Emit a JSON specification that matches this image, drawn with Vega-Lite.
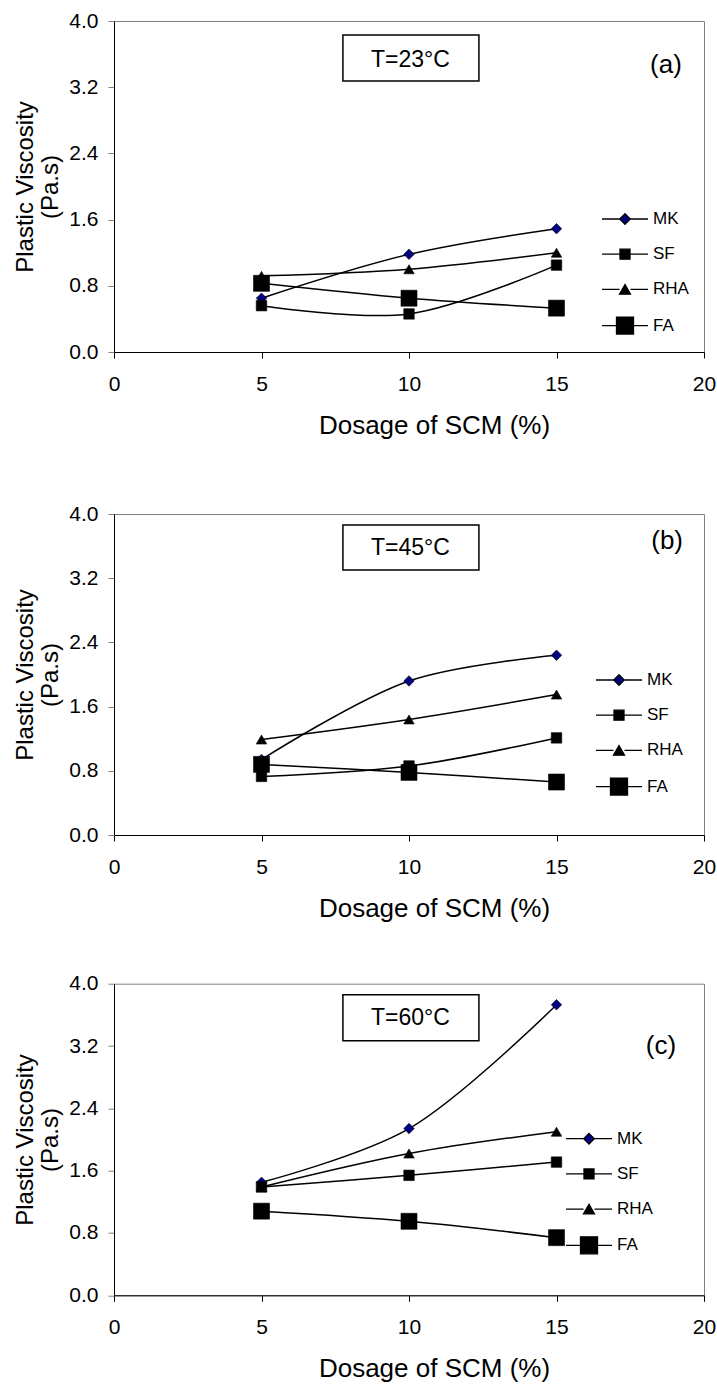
{
  "$schema": "https://vega.github.io/schema/vega-lite/v6.json",
  "padding": {"left": 12, "top": 9, "right": 5, "bottom": 5},
  "background": "white",
  "bounds": "flush",
  "spacing": 162,
  "resolve": {"scale": {"shape": "independent", "fill": "independent", "stroke": "independent"}, "legend": {"shape": "independent", "fill": "independent", "stroke": "independent"}},
  "config": {
    "font": "Liberation Sans",
    "view": {"stroke": "#808080", "strokeWidth": 1},
    "axis": {"grid": false, "domainColor": "black", "domainWidth": 1, "tickColor": "black", "tickSize": 6, "labelColor": "black", "titleColor": "black", "labelFont": "Liberation Sans", "titleFont": "Liberation Sans", "labelFontSize": 21, "titleFontWeight": "normal", "labelFlush": false, "labelOverlap": false},
    "legend": {"labelFont": "Liberation Sans", "labelFontSize": 17, "labelColor": "black", "symbolStrokeWidth": 1.3, "symbolSize": 400, "padding": 0, "rowPadding": 16.2, "labelOffset": 17, "symbolOpacity": 1},
    "text": {"font": "Liberation Sans", "color": "black"}
  },
  "datasets": {
    "a": [
      {"series": "MK", "dosage": 5, "pv": 0.65}, {"series": "MK", "dosage": 10, "pv": 1.18}, {"series": "MK", "dosage": 15, "pv": 1.49},
      {"series": "SF", "dosage": 5, "pv": 0.56}, {"series": "SF", "dosage": 10, "pv": 0.46}, {"series": "SF", "dosage": 15, "pv": 1.05},
      {"series": "RHA", "dosage": 5, "pv": 0.92}, {"series": "RHA", "dosage": 10, "pv": 1.0}, {"series": "RHA", "dosage": 15, "pv": 1.2},
      {"series": "FA", "dosage": 5, "pv": 0.83}, {"series": "FA", "dosage": 10, "pv": 0.65}, {"series": "FA", "dosage": 15, "pv": 0.53}
    ],
    "b": [
      {"series": "MK", "dosage": 5, "pv": 0.94}, {"series": "MK", "dosage": 10, "pv": 1.92}, {"series": "MK", "dosage": 15, "pv": 2.24},
      {"series": "SF", "dosage": 5, "pv": 0.73}, {"series": "SF", "dosage": 10, "pv": 0.86}, {"series": "SF", "dosage": 15, "pv": 1.21},
      {"series": "RHA", "dosage": 5, "pv": 1.19}, {"series": "RHA", "dosage": 10, "pv": 1.44}, {"series": "RHA", "dosage": 15, "pv": 1.75},
      {"series": "FA", "dosage": 5, "pv": 0.88}, {"series": "FA", "dosage": 10, "pv": 0.78}, {"series": "FA", "dosage": 15, "pv": 0.66}
    ],
    "c": [
      {"series": "MK", "dosage": 5, "pv": 1.45}, {"series": "MK", "dosage": 10, "pv": 2.14}, {"series": "MK", "dosage": 15, "pv": 3.73},
      {"series": "SF", "dosage": 5, "pv": 1.39}, {"series": "SF", "dosage": 10, "pv": 1.54}, {"series": "SF", "dosage": 15, "pv": 1.71},
      {"series": "RHA", "dosage": 5, "pv": 1.39}, {"series": "RHA", "dosage": 10, "pv": 1.82}, {"series": "RHA", "dosage": 15, "pv": 2.1},
      {"series": "FA", "dosage": 5, "pv": 1.08}, {"series": "FA", "dosage": 10, "pv": 0.95}, {"series": "FA", "dosage": 15, "pv": 0.74}
    ]
  },
  "vconcat": [
    {
      "width": 590, "height": 331,
      "layer": [
        {"data": {"name": "a"}, "mark": {"type": "line", "interpolate": "catmull-rom", "color": "black", "strokeWidth": 1.5},
         "encoding": {
           "x": {"field": "dosage", "type": "quantitative", "scale": {"domain": [0, 20], "nice": false}, "axis": {"values": [0, 5, 10, 15, 20], "title": "Dosage of SCM (%)", "titleFontSize": 26, "titleX": 320, "titleY": 81, "titleBaseline": "alphabetic", "titleAlign": "center", "labelPadding": 15}},
           "y": {"field": "pv", "type": "quantitative", "scale": {"domain": [0, 4], "nice": false}, "axis": {"values": [0, 0.8, 1.6, 2.4, 3.2, 4], "format": ".1f", "title": ["Plastic Viscosity", "(Pa.s)"], "titleFontSize": 24, "titleX": -82, "titleY": 165.5, "titleAngle": 270, "titleBaseline": "alphabetic", "titleAlign": "center", "titleLineHeight": 25, "labelPadding": 10, "tickColor": "#808080"}},
           "detail": {"field": "series"}
         }},
        {"data": {"name": "a"}, "mark": {"type": "point", "filled": true, "stroke": "black", "strokeWidth": 0.6, "opacity": 1},
         "encoding": {
           "x": {"field": "dosage", "type": "quantitative"},
           "y": {"field": "pv", "type": "quantitative"},
           "shape": {"condition": [{"test": "datum.series === 'MK'", "value": "diamond"}, {"test": "datum.series === 'RHA'", "value": "triangle-up"}], "value": "square"},
           "size": {"condition": {"test": "datum.series === 'FA'", "value": 256}, "value": 110},
           "color": {"condition": {"test": "datum.series === 'MK'", "value": "#000080"}, "value": "black"}
         }},
        {"data": {"name": "a"}, "transform": [{"filter": "datum.pv < 0"}], "mark": {"type": "point", "filled": true},
         "encoding": {
           "x": {"field": "dosage", "type": "quantitative"},
           "y": {"field": "pv", "type": "quantitative"},
           "shape": {"field": "series", "type": "nominal", "scale": {"domain": ["MK", "SF", "RHA", "FA"], "range": ["M-2.3,0H-0.53M0.53,0H2.3M0,-0.53L0.53,0L0,0.53L-0.53,0Z", "M-2.3,0H-0.5M0.5,0H2.3M-0.5,-0.5H0.5V0.5H-0.5Z", "M-2.3,0H-0.55M0.55,0H2.3M0,-0.48L0.55,0.48H-0.55Z", "M-2.3,0H-0.85M0.85,0H2.3M-0.85,-0.85H0.85V0.85H-0.85Z"]},
             "legend": {"title": null, "orient": "none", "legendX": 500, "legendY": 187}},
           "fill": {"field": "series", "type": "nominal", "scale": {"domain": ["MK", "SF", "RHA", "FA"], "range": ["#000080", "black", "black", "black"]},
             "legend": {"title": null, "orient": "none", "legendX": 500, "legendY": 187}},
           "stroke": {"field": "series", "type": "nominal", "scale": {"domain": ["MK", "SF", "RHA", "FA"], "range": ["black", "black", "black", "black"]},
             "legend": {"title": null, "orient": "none", "legendX": 500, "legendY": 187}}
         }},
        {"data": {"values": [{"t": "T=23°C"}]}, "mark": {"type": "rect", "fill": "white", "stroke": "black", "strokeWidth": 1.5},
         "encoding": {"x": {"datum": 7.76}, "x2": {"datum": 12.37}, "y": {"datum": 3.83}, "y2": {"datum": 3.275}}},
        {"data": {"values": [{"t": "T=23°C"}]}, "mark": {"type": "text", "fontSize": 23, "align": "center", "baseline": "middle"},
         "encoding": {"x": {"datum": 10.05}, "y": {"datum": 3.53}, "text": {"field": "t"}}},
        {"data": {"values": [{"t": "(a)"}]}, "mark": {"type": "text", "fontSize": 26, "align": "center", "baseline": "middle"},
         "encoding": {"x": {"datum": 18.71}, "y": {"datum": 3.47}, "text": {"field": "t"}}}
      ]
    },
    {
      "bounds": "flush",
      "spacing": 148.7,
      "resolve": {"scale": {"shape": "independent", "fill": "independent", "stroke": "independent"}, "legend": {"shape": "independent", "fill": "independent", "stroke": "independent"}},
      "vconcat": [
        {
          "width": 590, "height": 321,
          "layer": [
            {"data": {"name": "b"}, "mark": {"type": "line", "interpolate": "catmull-rom", "color": "black", "strokeWidth": 1.5},
             "encoding": {
               "x": {"field": "dosage", "type": "quantitative", "scale": {"domain": [0, 20], "nice": false}, "axis": {"values": [0, 5, 10, 15, 20], "title": "Dosage of SCM (%)", "titleFontSize": 26, "titleX": 320, "titleY": 81, "titleBaseline": "alphabetic", "titleAlign": "center", "labelPadding": 15}},
               "y": {"field": "pv", "type": "quantitative", "scale": {"domain": [0, 4], "nice": false}, "axis": {"values": [0, 0.8, 1.6, 2.4, 3.2, 4], "format": ".1f", "title": ["Plastic Viscosity", "(Pa.s)"], "titleFontSize": 24, "titleX": -82, "titleY": 160.5, "titleAngle": 270, "titleBaseline": "alphabetic", "titleAlign": "center", "titleLineHeight": 25, "labelPadding": 10, "tickColor": "#808080"}},
               "detail": {"field": "series"}
             }},
            {"data": {"name": "b"}, "mark": {"type": "point", "filled": true, "stroke": "black", "strokeWidth": 0.6, "opacity": 1},
             "encoding": {
               "x": {"field": "dosage", "type": "quantitative"},
               "y": {"field": "pv", "type": "quantitative"},
               "shape": {"condition": [{"test": "datum.series === 'MK'", "value": "diamond"}, {"test": "datum.series === 'RHA'", "value": "triangle-up"}], "value": "square"},
               "size": {"condition": {"test": "datum.series === 'FA'", "value": 256}, "value": 110},
               "color": {"condition": {"test": "datum.series === 'MK'", "value": "#000080"}, "value": "black"}
             }},
            {"data": {"name": "b"}, "transform": [{"filter": "datum.pv < 0"}], "mark": {"type": "point", "filled": true},
             "encoding": {
               "x": {"field": "dosage", "type": "quantitative"},
               "y": {"field": "pv", "type": "quantitative"},
               "shape": {"field": "series", "type": "nominal", "scale": {"domain": ["MK", "SF", "RHA", "FA"], "range": ["M-2.3,0H-0.53M0.53,0H2.3M0,-0.53L0.53,0L0,0.53L-0.53,0Z", "M-2.3,0H-0.5M0.5,0H2.3M-0.5,-0.5H0.5V0.5H-0.5Z", "M-2.3,0H-0.55M0.55,0H2.3M0,-0.48L0.55,0.48H-0.55Z", "M-2.3,0H-0.85M0.85,0H2.3M-0.85,-0.85H0.85V0.85H-0.85Z"]},
                 "legend": {"title": null, "orient": "none", "legendX": 494, "legendY": 155}},
               "fill": {"field": "series", "type": "nominal", "scale": {"domain": ["MK", "SF", "RHA", "FA"], "range": ["#000080", "black", "black", "black"]},
                 "legend": {"title": null, "orient": "none", "legendX": 494, "legendY": 155}},
               "stroke": {"field": "series", "type": "nominal", "scale": {"domain": ["MK", "SF", "RHA", "FA"], "range": ["black", "black", "black", "black"]},
                 "legend": {"title": null, "orient": "none", "legendX": 494, "legendY": 155}}
             }},
            {"data": {"values": [{"t": "T=45°C"}]}, "mark": {"type": "rect", "fill": "white", "stroke": "black", "strokeWidth": 1.5},
             "encoding": {"x": {"datum": 7.76}, "x2": {"datum": 12.37}, "y": {"datum": 3.863}, "y2": {"datum": 3.302}}},
            {"data": {"values": [{"t": "T=45°C"}]}, "mark": {"type": "text", "fontSize": 23, "align": "center", "baseline": "middle"},
             "encoding": {"x": {"datum": 10.05}, "y": {"datum": 3.576}, "text": {"field": "t"}}},
            {"data": {"values": [{"t": "(b)"}]}, "mark": {"type": "text", "fontSize": 26, "align": "center", "baseline": "middle"},
             "encoding": {"x": {"datum": 18.75}, "y": {"datum": 3.66}, "text": {"field": "t"}}}
          ]
        },
        {
          "width": 590, "height": 311.6,
          "layer": [
            {"data": {"name": "c"}, "mark": {"type": "line", "interpolate": "catmull-rom", "color": "black", "strokeWidth": 1.5},
             "encoding": {
               "x": {"field": "dosage", "type": "quantitative", "scale": {"domain": [0, 20], "nice": false}, "axis": {"values": [0, 5, 10, 15, 20], "title": "Dosage of SCM (%)", "titleFontSize": 26, "titleX": 320, "titleY": 81, "titleBaseline": "alphabetic", "titleAlign": "center", "labelPadding": 15}},
               "y": {"field": "pv", "type": "quantitative", "scale": {"domain": [0, 4], "nice": false}, "axis": {"values": [0, 0.8, 1.6, 2.4, 3.2, 4], "format": ".1f", "title": ["Plastic Viscosity", "(Pa.s)"], "titleFontSize": 24, "titleX": -82, "titleY": 155.8, "titleAngle": 270, "titleBaseline": "alphabetic", "titleAlign": "center", "titleLineHeight": 25, "labelPadding": 10, "tickColor": "#808080"}},
               "detail": {"field": "series"}
             }},
            {"data": {"name": "c"}, "mark": {"type": "point", "filled": true, "stroke": "black", "strokeWidth": 0.6, "opacity": 1},
             "encoding": {
               "x": {"field": "dosage", "type": "quantitative"},
               "y": {"field": "pv", "type": "quantitative"},
               "shape": {"condition": [{"test": "datum.series === 'MK'", "value": "diamond"}, {"test": "datum.series === 'RHA'", "value": "triangle-up"}], "value": "square"},
               "size": {"condition": {"test": "datum.series === 'FA'", "value": 256}, "value": 110},
               "color": {"condition": {"test": "datum.series === 'MK'", "value": "#000080"}, "value": "black"}
             }},
            {"data": {"name": "c"}, "transform": [{"filter": "datum.pv < 0"}], "mark": {"type": "point", "filled": true},
             "encoding": {
               "x": {"field": "dosage", "type": "quantitative"},
               "y": {"field": "pv", "type": "quantitative"},
               "shape": {"field": "series", "type": "nominal", "scale": {"domain": ["MK", "SF", "RHA", "FA"], "range": ["M-2.3,0H-0.53M0.53,0H2.3M0,-0.53L0.53,0L0,0.53L-0.53,0Z", "M-2.3,0H-0.5M0.5,0H2.3M-0.5,-0.5H0.5V0.5H-0.5Z", "M-2.3,0H-0.55M0.55,0H2.3M0,-0.48L0.55,0.48H-0.55Z", "M-2.3,0H-0.85M0.85,0H2.3M-0.85,-0.85H0.85V0.85H-0.85Z"]},
                 "legend": {"title": null, "orient": "none", "legendX": 464, "legendY": 144}},
               "fill": {"field": "series", "type": "nominal", "scale": {"domain": ["MK", "SF", "RHA", "FA"], "range": ["#000080", "black", "black", "black"]},
                 "legend": {"title": null, "orient": "none", "legendX": 464, "legendY": 144}},
               "stroke": {"field": "series", "type": "nominal", "scale": {"domain": ["MK", "SF", "RHA", "FA"], "range": ["black", "black", "black", "black"]},
                 "legend": {"title": null, "orient": "none", "legendX": 464, "legendY": 144}}
             }},
            {"data": {"values": [{"t": "T=60°C"}]}, "mark": {"type": "rect", "fill": "white", "stroke": "black", "strokeWidth": 1.5},
             "encoding": {"x": {"datum": 7.76}, "x2": {"datum": 12.37}, "y": {"datum": 3.858}, "y2": {"datum": 3.267}}},
            {"data": {"values": [{"t": "T=60°C"}]}, "mark": {"type": "text", "fontSize": 23, "align": "center", "baseline": "middle"},
             "encoding": {"x": {"datum": 10.05}, "y": {"datum": 3.56}, "text": {"field": "t"}}},
            {"data": {"values": [{"t": "(c)"}]}, "mark": {"type": "text", "fontSize": 26, "align": "center", "baseline": "middle"},
             "encoding": {"x": {"datum": 18.54}, "y": {"datum": 3.2}, "text": {"field": "t"}}}
          ]
        }
      ]
    }
  ]
}
